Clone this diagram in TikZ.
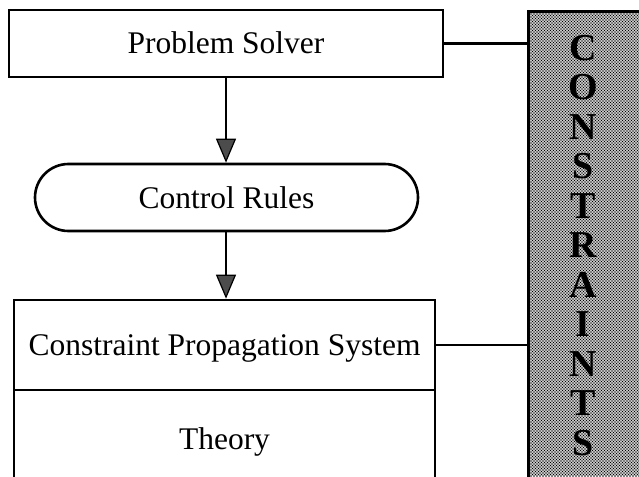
\documentclass[tikz,border=0pt]{standalone}
\usepackage{fontspec}
\setmainfont{Liberation Serif}
\usetikzlibrary{arrows.meta,shapes.misc,patterns}

% fine halftone dot screen for the constraints column
\pgfdeclarepatternformonly{halftone}{\pgfqpoint{-1.2pt}{-1.2pt}}{\pgfqpoint{2.7pt}{2.7pt}}{\pgfqpoint{3pt}{3pt}}{%
  \pgfpathcircle{\pgfqpoint{0pt}{0pt}}{0.95pt}%
  \pgfpathcircle{\pgfqpoint{1.5pt}{1.5pt}}{0.95pt}%
  \pgfusepath{fill}%
}

\tikzset{
  box/.style={draw, line width=2.6pt, rectangle, inner sep=0pt,
    font=\fontsize{31.5}{36}\selectfont, text height=21pt, text depth=0pt},
  pill/.style={box, rounded rectangle},
  flow/.style={line width=2pt, -{Triangle[width=20pt,length=24pt,fill=black!70,line width=1.2pt]}},
  link/.style={line width=2.2pt},
  column/.style={draw, line width=2.6pt, pattern=halftone, pattern color=black,
    minimum width=133pt, minimum height=480pt, inner sep=0pt},
  letters/.style={align=center, inner sep=0pt,
    font=\fontsize{38}{39.5}\selectfont\bfseries}
}

\begin{document}
\begin{tikzpicture}[x=1pt, y=-1pt]
  \clip (0,0) rectangle (639,476);
  \fill[white] (0,0) rectangle (639,476);

  % main blocks
  \node[box, minimum width=434pt, minimum height=67pt] (ps) at (226,43.5) {Problem Solver};
  \node[pill, minimum width=383pt, minimum height=67pt] (cr) at (226.5,197.5) {Control Rules};
  \node[box, minimum width=421pt, minimum height=90pt] (cps) at (224.5,345) {Constraint Propagation System};
  \node[box, minimum width=421pt, minimum height=98pt, anchor=north] (th) at ([yshift=2.6pt]cps.south) {Theory};

  % constraints column
  \node[column, anchor=north west] (cons) at (527,10) {};
  \node[letters] (word) at (583,245.5) {C\\O\\N\\S\\T\\R\\A\\I\\N\\T\\S};

  % control flow, kept vertical under the problem solver
  \draw[flow] (ps.south) -- (ps.south |- cr.north);
  \draw[flow] (ps.south |- cr.south) -- (ps.south |- cps.north);

  % links to the constraints
  \draw[link] (ps.east) -- (ps.east -| cons.west);
  \draw[link] (cps.east) -- (cps.east -| cons.west);
\end{tikzpicture}
\end{document}
